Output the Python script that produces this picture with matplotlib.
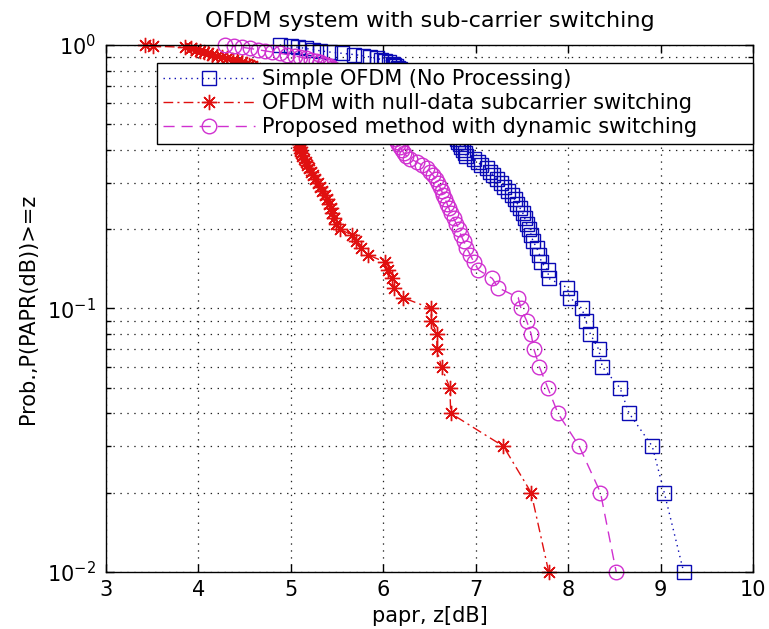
import matplotlib
matplotlib.use("Agg")
import matplotlib.pyplot as plt
from matplotlib.ticker import LogLocator, FixedLocator

# Empirical CCDF levels (percent of OFDM symbols whose PAPR exceeds z)
ccdf_percent = [100, 99, 98, 97, 96, 95, 94, 93, 92, 91,
                90, 89, 88, 87, 86, 85, 84, 83, 82, 81,
                80, 79, 78, 77, 76, 75, 74, 73, 72, 71,
                70, 69, 68, 67, 66, 65, 64, 63, 62, 61,
                60, 59, 58, 57, 56, 55, 54, 53, 52, 51,
                50, 49, 48, 47, 46, 45, 44, 43, 42, 41,
                40, 39, 38, 37, 36, 35, 34, 33, 32, 31,
                30, 29, 28, 27, 26, 25, 24, 23, 22, 21,
                20, 19, 18, 17, 16, 15, 14, 13, 12, 11,
                10, 9, 8, 7, 6, 5, 4, 3, 2, 1]

# PAPR threshold z [dB] reached at each CCDF level
papr_simple = [4.88, 5.00, 5.08, 5.16, 5.24, 5.32, 5.42, 5.55, 5.68, 5.78,
               5.86, 5.93, 5.98, 6.02, 6.06, 6.10, 6.12, 6.14, 6.16, 6.18,
               6.20, 6.22, 6.24, 6.26, 6.28, 6.30, 6.32, 6.34, 6.36, 6.38,
               6.40, 6.42, 6.44, 6.45, 6.47, 6.49, 6.50, 6.52, 6.54, 6.55,
               6.57, 6.58, 6.60, 6.61, 6.63, 6.64, 6.66, 6.67, 6.69, 6.70,
               6.72, 6.73, 6.74, 6.76, 6.77, 6.78, 6.80, 6.81, 6.83, 6.84,
               6.86, 6.88, 6.90, 6.98, 7.02, 7.06, 7.12, 7.16, 7.19, 7.23,
               7.27, 7.31, 7.35, 7.39, 7.42, 7.45, 7.48, 7.51, 7.53, 7.55,
               7.58, 7.60, 7.62, 7.66, 7.69, 7.71, 7.78, 7.79, 7.99, 8.02,
               8.15, 8.19, 8.24, 8.33, 8.37, 8.56, 8.66, 8.91, 9.04, 9.25]

papr_null = [3.42, 3.51, 3.86, 3.92, 3.97, 4.02, 4.06, 4.10, 4.15, 4.20,
             4.26, 4.31, 4.37, 4.42, 4.47, 4.52, 4.55, 4.58, 4.61, 4.63,
             4.66, 4.68, 4.70, 4.72, 4.74, 4.76, 4.78, 4.80, 4.82, 4.83,
             4.85, 4.86, 4.88, 4.89, 4.90, 4.92, 4.93, 4.94, 4.95, 4.96,
             4.97, 4.98, 4.99, 5.00, 5.01, 5.02, 5.02, 5.03, 5.04, 5.04,
             5.05, 5.06, 5.06, 5.07, 5.07, 5.08, 5.08, 5.09, 5.09, 5.10,
             5.10, 5.11, 5.12, 5.14, 5.16, 5.18, 5.20, 5.22, 5.24, 5.26,
             5.29, 5.32, 5.34, 5.37, 5.39, 5.41, 5.43, 5.45, 5.47, 5.49,
             5.53, 5.66, 5.71, 5.76, 5.83, 6.02, 6.05, 6.09, 6.12, 6.21,
             6.52, 6.52, 6.58, 6.58, 6.63, 6.72, 6.73, 7.30, 7.60, 7.79]

papr_dynamic = [4.29, 4.38, 4.47, 4.56, 4.64, 4.72, 4.80, 4.88, 4.96, 5.04,
                5.10, 5.16, 5.22, 5.27, 5.32, 5.36, 5.39, 5.42, 5.45, 5.47,
                5.50, 5.52, 5.54, 5.56, 5.58, 5.60, 5.62, 5.64, 5.66, 5.68,
                5.70, 5.72, 5.74, 5.76, 5.78, 5.80, 5.82, 5.84, 5.85, 5.87,
                5.89, 5.90, 5.92, 5.94, 5.95, 5.97, 5.98, 6.00, 6.01, 6.03,
                6.04, 6.06, 6.07, 6.09, 6.10, 6.12, 6.13, 6.15, 6.16, 6.18,
                6.20, 6.22, 6.25, 6.29, 6.36, 6.42, 6.47, 6.51, 6.54, 6.57,
                6.59, 6.61, 6.63, 6.65, 6.67, 6.69, 6.71, 6.73, 6.76, 6.79,
                6.82, 6.84, 6.87, 6.90, 6.94, 6.98, 7.03, 7.18, 7.24, 7.46,
                7.49, 7.55, 7.60, 7.63, 7.69, 7.78, 7.89, 8.12, 8.35, 8.52]

series_labels = ["Simple OFDM (No Processing)",
                 "OFDM with null-data subcarrier switching",
                 "Proposed method with dynamic switching"]
x_ticks = [3, 4, 5, 6, 7, 8, 9, 10]

plt.rcParams["font.family"] = ["DejaVu Sans"]
plt.rcParams["font.size"] = 15
plt.rcParams["lines.scale_dashes"] = False

prob = [p / 100.0 for p in ccdf_percent]

fig = plt.figure(figsize=(7.69, 6.29), dpi=100)
ax = fig.add_axes([0.1378, 0.0906, 0.8414, 0.8379])

ax.semilogy(papr_simple, prob, linestyle=(0, (1, 3)), color="#0a0ab4",
            marker="s", markersize=10, markerfacecolor="none",
            markeredgewidth=1.0, linewidth=1.0, clip_on=False,
            label=series_labels[0])
ax.semilogy(papr_null, prob, linestyle=(0, (7, 3, 1.5, 3)), color="#e01010",
            marker=(8, 2, 0), markersize=11, markeredgewidth=1.0,
            linewidth=1.0, clip_on=False, label=series_labels[1])
ax.semilogy(papr_dynamic, prob, linestyle=(0, (8, 5)), color="#d030d0",
            marker="o", markersize=10.5, markerfacecolor="none",
            markeredgewidth=1.0, linewidth=1.0, clip_on=False,
            label=series_labels[2])

ax.set_xlim(3, 10)
ax.set_ylim(1e-2, 1e0)
ax.xaxis.set_major_locator(FixedLocator(x_ticks))
ax.yaxis.set_major_locator(LogLocator(base=10, numticks=10))
ax.yaxis.set_minor_locator(LogLocator(base=10, subs=range(2, 10), numticks=10))

ax.tick_params(which="both", direction="in", top=True, right=True,
               width=1.0, colors="black")
ax.tick_params(which="major", length=6)
ax.tick_params(which="minor", length=3.5)
ax.tick_params(axis="x", which="major", pad=6)
ax.tick_params(axis="y", which="major", pad=7)

grid_style = dict(color="#222222", linestyle=(0, (1, 4)), linewidth=0.9)
ax.grid(True, which="major", axis="both", **grid_style)
ax.grid(True, which="minor", axis="y", **grid_style)
for sp in ax.spines.values():
    sp.set_linewidth(1.0)
    sp.set_color("black")

ax.set_title("OFDM system with sub-carrier switching", fontsize=16, pad=13)
ax.set_xlabel("papr, z[dB]", labelpad=4)
ax.set_ylabel("Prob.,P(PAPR(dB))>=z", labelpad=7)

leg = ax.legend(loc="upper left", bbox_to_anchor=(0.0788, 0.5, 0.9212, 0.466),
                mode="expand", borderaxespad=0, numpoints=1,
                handlelength=4.4, handletextpad=0.35, borderpad=0.3,
                labelspacing=0.2, fancybox=False, framealpha=1,
                edgecolor="black")
leg.get_frame().set_linewidth(1.0)

fig.savefig("out.png", dpi=100, facecolor="white")
